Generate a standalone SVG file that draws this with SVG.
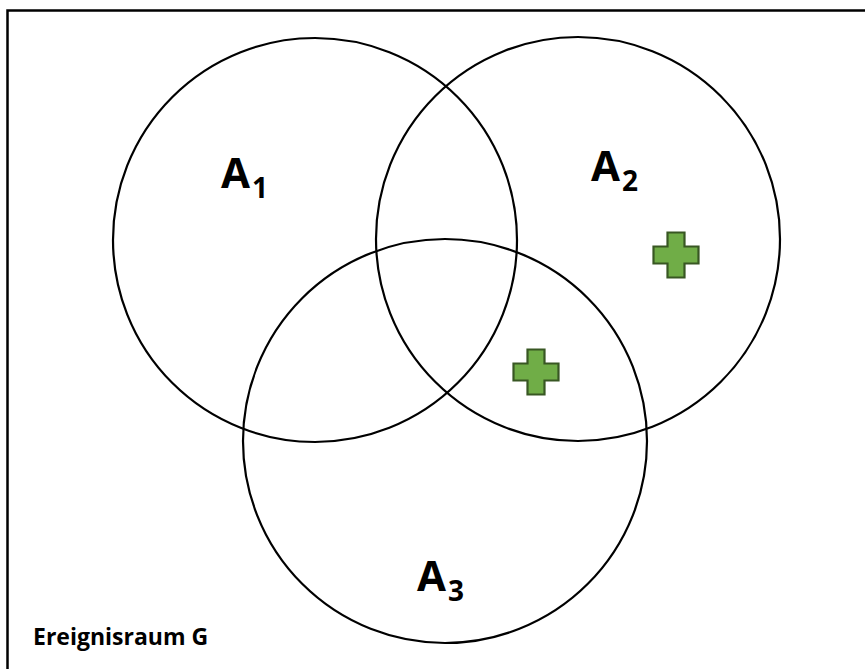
<svg xmlns="http://www.w3.org/2000/svg" width="865" height="669" viewBox="0 0 865 669">
<style>
.c{fill:none;stroke:#000;stroke-width:2.2}
.lbl{font-family:"Open Sans","Liberation Sans",sans-serif;font-weight:bold;fill:#000}
.plus{fill:#70AD47;stroke:#385723;stroke-width:2.2}
</style>
<defs>
<path id="plus" d="M-8.5,-22.5 H8.5 V-8.5 H22.5 V8.5 H8.5 V22.5 H-8.5 V8.5 H-22.5 V-8.5 H-8.5 Z"/>
</defs>
<rect x="0" y="0" width="865" height="669" fill="#fff"/>
<rect x="7.5" y="10.5" width="870" height="680" fill="none" stroke="#000" stroke-width="2.5"/>
<g id="A1"><circle class="c" cx="315" cy="240" r="202"/>
<text class="lbl" x="221" y="188" font-size="42">A<tspan font-size="28" dy="10" dx="2">1</tspan></text></g>
<g id="A2"><circle class="c" cx="578" cy="239" r="202"/>
<text class="lbl" x="591" y="181" font-size="42">A<tspan font-size="28" dy="10" dx="2">2</tspan></text></g>
<g id="A3"><circle class="c" cx="445" cy="441" r="202"/>
<text class="lbl" x="417" y="591" font-size="42">A<tspan font-size="28" dy="10" dx="2">3</tspan></text></g>
<g id="plus1"><use href="#plus" class="plus" transform="translate(676,255)"/></g>
<g id="plus2"><use href="#plus" class="plus" transform="translate(536,372)"/></g>
<g id="G"><text class="lbl" x="33" y="645" font-size="23">Ereignisraum G</text></g>
</svg>
